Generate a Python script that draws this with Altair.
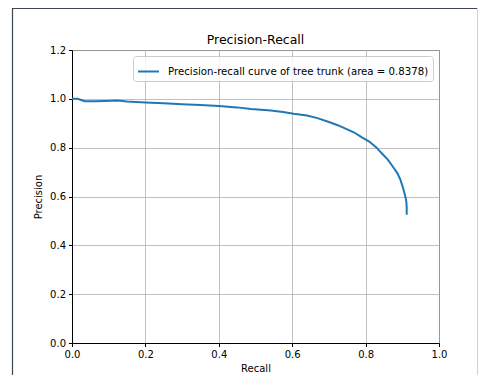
import altair as alt
import pandas as pd

recall = [0.000, 0.015, 0.025, 0.035, 0.060, 0.090, 0.124, 0.150, 0.200, 0.250,
          0.300, 0.350, 0.400, 0.450, 0.488, 0.542, 0.575, 0.604, 0.640, 0.669,
          0.700, 0.724, 0.750, 0.769, 0.790, 0.810, 0.830, 0.842, 0.860, 0.874,
          0.886, 0.895, 0.901, 0.906, 0.909, 0.911, 0.912, 0.912]
precision = [1.000, 1.000, 0.995, 0.990, 0.990, 0.991, 0.993, 0.989, 0.985, 0.982,
             0.978, 0.975, 0.971, 0.965, 0.958, 0.952, 0.946, 0.939, 0.932, 0.921,
             0.905, 0.892, 0.875, 0.862, 0.842, 0.825, 0.800, 0.780, 0.752, 0.723,
             0.697, 0.668, 0.640, 0.613, 0.595, 0.579, 0.555, 0.525]
series_label = "Precision-recall curve of tree trunk (area = 0.8378)"
chart_title = "Precision-Recall"
x_ticks = [0.0, 0.2, 0.4, 0.6, 0.8, 1.0]
y_ticks = [0.0, 0.2, 0.4, 0.6, 0.8, 1.0, 1.2]

df = pd.DataFrame({
    "Recall": recall,
    "Precision": precision,
    "order": list(range(len(recall))),
    "series": [series_label] * len(recall),
})

W, H = 367, 293
PL, PT, PR, PB = 64, 42, 39, 32

curve = alt.Chart(df).mark_line(strokeWidth=2, strokeCap="butt").encode(
    x=alt.X("Recall:Q", scale=alt.Scale(domain=[0, 1], nice=False),
            axis=alt.Axis(values=x_ticks, format=".1f", title="Recall")),
    y=alt.Y("Precision:Q", scale=alt.Scale(domain=[0, 1.2], nice=False),
            axis=alt.Axis(values=y_ticks, format=".1f", title="Precision")),
    order="order:Q",
    color=alt.Color("series:N",
                    scale=alt.Scale(domain=[series_label], range=["#1f77b4"]),
                    legend=alt.Legend(title=None, orient="none", legendX=61, legendY=6,
                                      symbolType="stroke", symbolStrokeWidth=2,
                                      symbolSize=440, labelFontSize=10.2,
                                      labelFont="DejaVu Sans", labelColor="#000000",
                                      labelLimit=0,
                                      fillColor="rgba(255,255,255,0.8)",
                                      strokeColor="#cccccc", padding=4,
                                      cornerRadius=3, labelOffset=8)),
)

one = pd.DataFrame({"t": [chart_title]})
title_text = alt.Chart(one).mark_text(
    fontSize=12.5, font="DejaVu Sans", color="#000000", baseline="alphabetic",
    align="center").encode(text="t:N", x=alt.value(W / 2), y=alt.value(-6))
frame_left = alt.Chart(one).mark_rule(color="#3d4753", strokeWidth=1.2).encode(
    x=alt.value(-59.5), y=alt.value(-42), y2=alt.value(H + PB))
frame_top = alt.Chart(one).mark_rule(color="#3d4753", strokeWidth=1.2).encode(
    x=alt.value(-59.5), x2=alt.value(W + PR), y=alt.value(-41.5))
frame_right = alt.Chart(one).mark_rule(color="#d0d0d0", strokeWidth=1).encode(
    x=alt.value(W + PR - 0.5), y=alt.value(-42), y2=alt.value(H + PB))

chart = alt.layer(curve, title_text, frame_left, frame_top, frame_right).properties(
    width=W, height=H,
    background="white",
    autosize=alt.AutoSizeParams(type="none"),
    padding={"left": PL, "top": PT, "right": PR, "bottom": PB},
).configure_view(
    stroke="#333333", strokeWidth=1
).configure_axis(
    domainColor="#000000", domainWidth=1, tickColor="#000000", tickSize=3.5,
    tickWidth=1, labelColor="#000000", labelFont="DejaVu Sans", labelFontSize=10,
    titleFont="DejaVu Sans", titleFontSize=10, titleFontWeight="normal",
    titleColor="#000000", gridColor="#b0b0b0", gridWidth=0.8, labelPadding=3,
    labelFlush=False,
).configure_axisX(titlePadding=4).configure_axisY(titlePadding=6)

chart.save("out.html", embed_options={"renderer": "svg", "actions": False})
